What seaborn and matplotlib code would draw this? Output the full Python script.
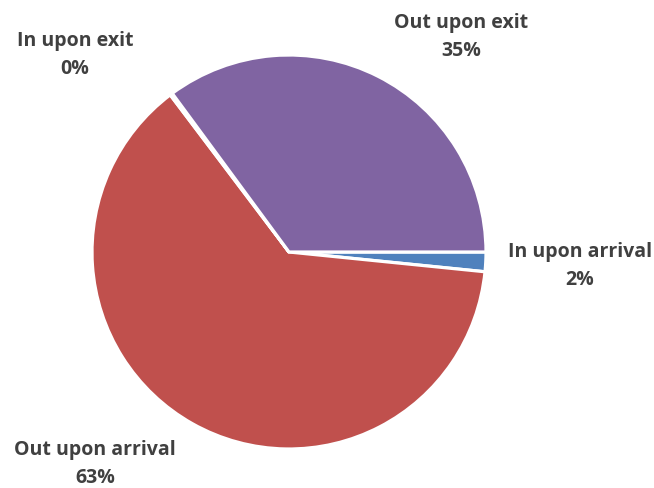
import matplotlib
matplotlib.use("Agg")
import matplotlib.pyplot as plt
import seaborn as sns

# data
categories = ["In upon arrival", "Out upon arrival", "In upon exit", "Out upon exit"]
shares = [1.6, 63.1, 0.2, 35.1]
colors = ["#4F81BD", "#C0504D", "#9BBB59", "#8064A2"]

# label centres, in pie-radius units (layout only)
label_pos = [(1.477, -0.07), (-0.985, -1.075), (-1.086, 1.0), (0.873, 1.09)]

sns.set_theme(style="white")
plt.rcParams["font.family"] = ["Open Sans", "DejaVu Sans"]

W, H = 654, 488
cx, cy, R = 289, 252, 197

fig = plt.figure(figsize=(W / 100, H / 100), dpi=100)
ax = fig.add_axes([0, 0, 1, 1])
ax.pie(shares, colors=colors, startangle=0, counterclock=False,
       radius=1, wedgeprops=dict(edgecolor="white", linewidth=2.3))
ax.set_xlim(-cx / R, (W - cx) / R)
ax.set_ylim(-(H - cy) / R, cy / R)
ax.set_aspect("equal")
ax.axis("off")

for name, v, (x, y) in zip(categories, shares, label_pos):
    ax.text(x, y, f"{name}\n{round(v):.0f}%", ha="center", va="center",
            fontsize=14, fontweight="bold", color="#404040", linespacing=1.55)

fig.savefig("out.png", dpi=100)
